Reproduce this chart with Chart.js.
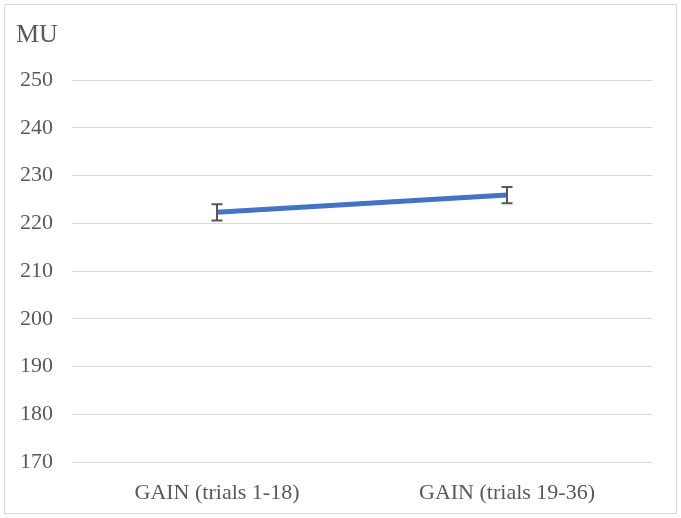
<!DOCTYPE html>
<html>
<head>
<meta charset="utf-8">
<script src="https://cdn.jsdelivr.net/npm/chart.js@4"></script>
<style>
  html, body { margin: 0; padding: 0; background: #fff; }
  #wrap { width: 681px; height: 518px; position: relative; }
</style>
</head>
<body>
<div id="wrap"><canvas id="chart"></canvas></div>
<script>
// data
const categories = ['GAIN (trials 1-18)', 'GAIN (trials 19-36)'];
const muValues = [222.3, 225.9];
const muErrors = [1.7, 1.7];
const yMin = 170;
const yMax = 250;
const yStep = 10;

const textColor = '#595959';
const gridColor = '#d9d9d9';
const fontFamily = '"Liberation Serif", "Times New Roman", serif';

// error bars + frame + axis title
const extras = {
    id: 'extras',
    afterDatasetsDraw(chart) {
        const ctx = chart.ctx;
        const x = chart.scales.x, y = chart.scales.y;
        ctx.save();
        ctx.strokeStyle = '#595959';
        ctx.lineWidth = 2;
        muValues.forEach((v, i) => {
            const px = x.getPixelForValue(i);
            const top = y.getPixelForValue(v + muErrors[i]);
            const bot = y.getPixelForValue(v - muErrors[i]);
            ctx.beginPath();
            ctx.moveTo(px, top); ctx.lineTo(px, bot);
            ctx.moveTo(px - 5.5, top); ctx.lineTo(px + 5.5, top);
            ctx.moveTo(px - 5.5, bot); ctx.lineTo(px + 5.5, bot);
            ctx.stroke();
        });
        ctx.restore();
    },
    afterDraw(chart) {
        const ctx = chart.ctx;
        ctx.save();
        ctx.strokeStyle = gridColor;
        ctx.lineWidth = 1;
        ctx.strokeRect(4.5, 4.5, 672, 509);
        ctx.fillStyle = textColor;
        ctx.font = '26px ' + fontFamily;
        ctx.textBaseline = 'alphabetic';
        ctx.fillText('MU', 16, 42);
        ctx.restore();
    }
};

new Chart(document.getElementById('chart').getContext('2d'), {
    type: 'line',
    data: {
        labels: categories,
        datasets: [{
            label: 'MU',
            data: muValues,
            borderColor: '#4472c4',
            backgroundColor: '#4472c4',
            borderWidth: 5,
            pointRadius: 0,
            tension: 0
        }]
    },
    options: {
        responsive: true,
        maintainAspectRatio: false,
        animation: false,
        layout: { padding: { left: 0, right: 29, top: 80, bottom: 0 } },
        plugins: {
            legend: { display: false },
            tooltip: { enabled: false }
        },
        scales: {
            x: {
                offset: true,
                grid: { display: false },
                border: { display: false },
                ticks: {
                    color: textColor,
                    font: { family: fontFamily, size: 22 },
                    padding: 10,
                    maxRotation: 0
                },
                afterFit(scale) { scale.height = 56; }
            },
            y: {
                min: yMin,
                max: yMax,
                grid: { color: gridColor, lineWidth: 1, drawTicks: false },
                border: { display: false },
                ticks: {
                    stepSize: yStep,
                    color: textColor,
                    font: { family: fontFamily, size: 22 },
                    padding: 19
                },
                afterFit(scale) { scale.width = 72; }
            }
        }
    },
    plugins: [extras]
});
</script>
</body>
</html>
